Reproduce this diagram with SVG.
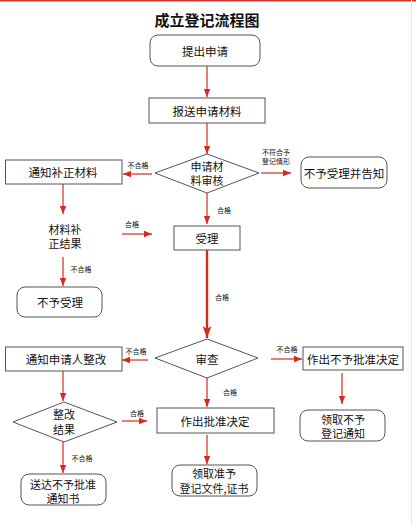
<svg xmlns="http://www.w3.org/2000/svg" width="416" height="526" viewBox="0 0 416 526">
<defs>
<marker id="ah" markerUnits="userSpaceOnUse" markerWidth="8" markerHeight="8" viewBox="0 0 8 8" refX="8" refY="4" orient="auto">
<path d="M0,0.8 L8,4 L0,7.2 Z" fill="#d42a1f"/>
</marker>
<marker id="ahb" markerUnits="userSpaceOnUse" markerWidth="12" markerHeight="16" viewBox="0 0 16 12" refX="16" refY="6" orient="auto">
<path d="M0,0 L16,6 L0,12 L4,6 Z" fill="#d42a1f"/>
</marker>
</defs>
<style>
.box{fill:#fff;stroke:#555;stroke-width:1}
.t{font-family:"Noto Sans CJK SC","Noto Sans",sans-serif;font-size:11.5px;fill:#111;text-anchor:middle;dominant-baseline:central}
.m{font-family:"Noto Sans CJK SC","Noto Sans",sans-serif;font-size:11px;fill:#111;text-anchor:middle;dominant-baseline:central}
.s{font-family:"Noto Sans CJK SC","Noto Sans",sans-serif;font-size:7px;fill:#111;text-anchor:middle;dominant-baseline:central}
.title{font-family:"Noto Sans CJK SC","Noto Sans",sans-serif;font-size:15px;font-weight:bold;fill:#111;text-anchor:middle;dominant-baseline:central}
.c{stroke:#d42a1f;stroke-width:1.2;fill:none;marker-end:url(#ah)}
.cb{stroke:#d42a1f;stroke-width:2.4;fill:none;marker-end:url(#ahb)}
</style>
<rect x="0" y="0" width="416" height="526" fill="#fff"/>
<rect x="0" y="0" width="416" height="1.5" fill="#d0342c"/>
<line x1="411.5" y1="0" x2="411.5" y2="526" stroke="#e8e8e8" stroke-width="1"/>
<text class="title" x="207" y="19">成立登记流程图</text>

<g id="connectors">
<line class="c" x1="207" y1="66" x2="207" y2="97"/>
<line class="c" x1="207" y1="123" x2="207" y2="154"/>
<line class="c" x1="152" y1="174" x2="123" y2="174"/>
<text class="s" x="138" y="165">不合格</text>
<line class="c" x1="261" y1="173" x2="291" y2="173"/>
<text class="s" x="276" y="151.5">不符合予<tspan x="276" dy="9.5">登记情形</tspan></text>
<line class="c" x1="207" y1="193" x2="207" y2="224"/>
<text class="s" x="224" y="210">合格</text>
<line class="c" x1="63" y1="184" x2="63" y2="214"/>
<line class="c" x1="122" y1="234" x2="152" y2="234"/>
<text class="s" x="132" y="224">合格</text>
<line class="c" x1="63" y1="257" x2="63" y2="286"/>
<text class="s" x="81" y="269">不合格</text>
<line class="cb" x1="207" y1="250" x2="207" y2="338"/>
<text class="s" x="222" y="297">合格</text>
<line class="c" x1="148" y1="360" x2="122" y2="360"/>
<text class="s" x="136" y="351">不合格</text>
<line class="c" x1="271" y1="359" x2="302" y2="359"/>
<text class="s" x="287" y="349">不合格</text>
<line class="c" x1="63" y1="371" x2="63" y2="401"/>
<line class="c" x1="122" y1="421" x2="147" y2="421"/>
<text class="s" x="137" y="413">合格</text>
<line class="c" x1="207" y1="378" x2="207" y2="407"/>
<text class="s" x="230" y="392">合格</text>
<line class="c" x1="342" y1="373" x2="342" y2="404"/>
<line class="c" x1="63" y1="442" x2="63" y2="473"/>
<text class="s" x="82" y="458">不合格</text>
<line class="c" x1="207" y1="435" x2="207" y2="464"/>
</g>

<g id="n1"><rect class="box" x="150" y="35" width="110" height="31" rx="8"/><text class="t" x="205" y="51">提出申请</text></g>
<g id="n2"><rect class="box" x="149" y="98" width="116" height="25"/><text class="t" x="207" y="111">报送申请材料</text></g>
<g id="d1"><polygon class="box" points="155,173 207,154 259,173 207,193"/><text class="m" x="207" y="165.5">申请材<tspan x="207" dy="14.5">料审核</tspan></text></g>
<g id="n3"><rect class="box" x="5.5" y="160" width="116.5" height="24"/><text class="t" x="63" y="172">通知补正材料</text></g>
<g id="n4"><rect class="box" x="301" y="157" width="86" height="31" rx="8"/><text class="t" x="344" y="173">不予受理并告知</text></g>
<g id="n5"><rect class="box" x="174" y="226" width="66" height="24"/><text class="t" x="207" y="238">受理</text></g>
<g id="t1"><text class="m" x="65" y="228.5">材料补<tspan x="65" dy="14.5">正结果</tspan></text></g>
<g id="n6"><rect class="box" x="17" y="287" width="85" height="30" rx="8"/><text class="t" x="60" y="302">不予受理</text></g>
<g id="d2"><polygon class="box" points="155,358 207,339 258,358 207,378"/><text class="t" x="207" y="359">审查</text></g>
<g id="n7"><rect class="box" x="5.5" y="347" width="116.5" height="24"/><text class="t" x="66" y="359">通知申请人整改</text></g>
<g id="n8"><rect class="box" x="303" y="347" width="100" height="23"/><text class="t" x="353" y="358.5">作出不予批准决定</text></g>
<g id="d3"><polygon class="box" points="13,422 64,402 117,422 64,442"/><text class="m" x="64" y="414">整改<tspan x="64" dy="14.5">结果</tspan></text></g>
<g id="n9"><rect class="box" x="157" y="408" width="117" height="25"/><text class="t" x="215" y="420.5">作出批准决定</text></g>
<g id="n10"><rect class="box" x="300" y="410" width="85" height="31" rx="8"/><text class="m" x="343" y="418.5">领取不予<tspan x="343" dy="14.5">登记通知</tspan></text></g>
<g id="n11"><rect class="box" x="21" y="474" width="85" height="31" rx="8"/><text class="m" x="63" y="483.5">送达不予批准<tspan x="63" dy="14.5">通知书</tspan></text></g>
<g id="n12"><rect class="box" x="172" y="465" width="85" height="31" rx="8"/><text class="m" x="214" y="473">领取准予<tspan x="214" dy="14.5">登记文件,证书</tspan></text></g>
</svg>
